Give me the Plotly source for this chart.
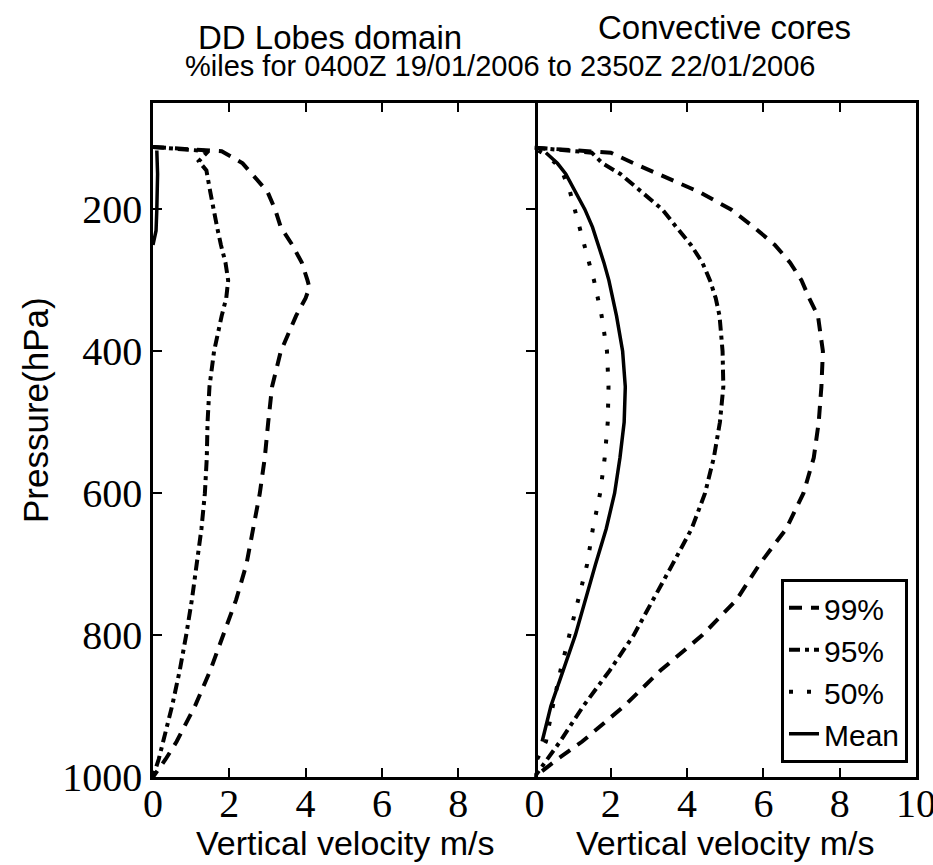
import plotly.graph_objects as go

# ---- DD Lobes domain (left panel) ----
dd_p99 = [112, 118, 135, 150, 175, 200, 225, 250, 275, 300, 310, 325, 350, 400, 450,
          500, 550, 600, 650, 700, 750, 800, 850, 900, 950, 975, 1000]
dd_v99 = [0.0, 1.8, 2.35, 2.6, 3.0, 3.2, 3.35, 3.65, 3.9, 4.05, 4.1, 4.0, 3.75, 3.35, 3.12,
          3.02, 2.93, 2.8, 2.62, 2.45, 2.18, 1.85, 1.5, 1.1, 0.62, 0.33, 0.0]

dd_p95 = [112, 118, 132, 145, 175, 200, 225, 250, 275, 300, 325, 350, 400, 450, 500,
          550, 600, 650, 700, 750, 800, 850, 900, 950, 975, 1000]
dd_v95 = [0.0, 1.45, 1.2, 1.4, 1.5, 1.58, 1.68, 1.78, 1.9, 1.97, 1.92, 1.8, 1.6, 1.48, 1.43,
          1.41, 1.36, 1.27, 1.15, 1.02, 0.87, 0.7, 0.5, 0.28, 0.15, 0.0]

dd_pmean = [117, 150, 200, 230, 250]
dd_vmean = [0.1, 0.12, 0.1, 0.08, 0.0]

# ---- Convective cores (right panel) ----
cc_p99 = [113, 120, 135, 150, 175, 200, 225, 250, 275, 300, 325, 350, 400, 450, 500,
          550, 600, 650, 700, 750, 800, 850, 900, 950, 975, 1000]
cc_v99 = [0.0, 2.0, 2.6, 3.25, 4.3, 5.15, 5.75, 6.3, 6.7, 7.0, 7.2, 7.43, 7.56, 7.52, 7.45,
          7.32, 7.05, 6.6, 5.9, 5.3, 4.4, 3.3, 2.35, 1.25, 0.6, 0.0]

cc_p95 = [113, 120, 135, 150, 175, 200, 225, 250, 275, 300, 325, 350, 400, 450, 500,
          550, 600, 650, 700, 750, 800, 850, 900, 950, 975, 1000]
cc_v95 = [0.0, 1.5, 1.78, 2.25, 2.8, 3.35, 3.72, 4.1, 4.4, 4.6, 4.75, 4.85, 4.93, 4.95, 4.86,
          4.7, 4.47, 4.12, 3.62, 3.1, 2.6, 1.97, 1.28, 0.67, 0.35, 0.0]

cc_p50 = [117, 125, 135, 150, 175, 200, 225, 250, 275, 300, 325, 350, 400, 450, 500,
          550, 600, 650, 700, 750, 800, 850, 900, 950, 975, 1000]
cc_v50 = [0.1, 0.35, 0.55, 0.75, 0.93, 1.05, 1.17, 1.29, 1.43, 1.56, 1.66, 1.76, 1.9, 1.94, 1.92,
          1.84, 1.72, 1.53, 1.38, 1.15, 0.92, 0.68, 0.48, 0.3, 0.07, 0.0]

cc_pmean = [120, 135, 150, 175, 200, 225, 250, 275, 300, 325, 350, 400, 450, 500,
            550, 600, 650, 700, 750, 800, 850, 900, 950]
cc_vmean = [0.3, 0.6, 0.82, 1.08, 1.32, 1.52, 1.68, 1.82, 1.95, 2.06, 2.15, 2.31, 2.38, 2.35,
            2.24, 2.1, 1.88, 1.6, 1.33, 1.07, 0.75, 0.43, 0.2]

x_ticks_left = [0, 2, 4, 6, 8]
x_ticks_right = [0, 2, 4, 6, 8, 10]
p_ticks = [200, 400, 600, 800, 1000]

DASH = "13px,9px"
DASHDOT = "11px,5px,4px,5px"
DOT = "4px,14px"
LW = 4

fig = go.Figure()

# left panel
fig.add_trace(go.Scatter(x=dd_v99, y=dd_p99, mode="lines", xaxis="x", yaxis="y",
                         line=dict(color="black", width=LW, dash=DASH), showlegend=False))
fig.add_trace(go.Scatter(x=dd_v95, y=dd_p95, mode="lines", xaxis="x", yaxis="y",
                         line=dict(color="black", width=LW, dash=DASHDOT), showlegend=False))
fig.add_trace(go.Scatter(x=dd_vmean, y=dd_pmean, mode="lines", xaxis="x", yaxis="y",
                         line=dict(color="black", width=3.5), showlegend=False))

# right panel
fig.add_trace(go.Scatter(x=cc_v99, y=cc_p99, mode="lines", name="99%", xaxis="x2", yaxis="y2",
                         line=dict(color="black", width=LW, dash=DASH)))
fig.add_trace(go.Scatter(x=cc_v95, y=cc_p95, mode="lines", name="95%", xaxis="x2", yaxis="y2",
                         line=dict(color="black", width=LW, dash=DASHDOT)))
fig.add_trace(go.Scatter(x=cc_v50, y=cc_p50, mode="lines", name="50%", xaxis="x2", yaxis="y2",
                         line=dict(color="black", width=LW, dash=DOT)))
fig.add_trace(go.Scatter(x=cc_vmean, y=cc_pmean, mode="lines", name="Mean", xaxis="x2", yaxis="y2",
                         line=dict(color="black", width=3.5)))

tick_font = dict(family="Liberation Serif", size=40, color="black")
axis_common = dict(showline=True, linecolor="black", linewidth=2.5, ticks="inside",
                   ticklen=9, tickwidth=1.5, tickcolor="black", showgrid=False,
                   zeroline=False, tickfont=tick_font, automargin=False)

fig.update_layout(
    width=933, height=865,
    margin=dict(l=153, r=17, t=103, b=88, autoexpand=False),
    paper_bgcolor="white", plot_bgcolor="white",
    xaxis=dict(domain=[0, 0.5], range=[0, 10], tickvals=x_ticks_left, mirror="ticks",
               anchor="y", ticklabelstandoff=-11, ticklabeloverflow="allow", **axis_common),
    xaxis2=dict(domain=[0.5, 1], range=[0, 10], tickvals=x_ticks_right, mirror="ticks",
                anchor="y2", ticklabelstandoff=-11, ticklabeloverflow="allow", **axis_common),
    yaxis=dict(range=[1000, 50], tickvals=p_ticks, mirror="ticks", anchor="x",
               ticklabeloverflow="allow", **axis_common),
    yaxis2=dict(range=[1000, 50], matches="y", anchor="x2", side="right", showline=True,
                linecolor="black", linewidth=2.5, mirror=False, ticks="",
                showticklabels=False, showgrid=False, zeroline=False, automargin=False),
    legend=dict(x=0.9895, y=0.021, xanchor="right", yanchor="bottom",
                bgcolor="white", bordercolor="black", borderwidth=3,
                font=dict(family="Liberation Sans", size=30, color="black"),
                itemwidth=30, tracegroupgap=0),
    showlegend=True,
)

W, H = 763.0, 674.0


def px(xp):
    return (xp - 153) / W


def py(yp):
    return (777 - yp) / H


sans = "Liberation Sans"
annos = [
    dict(text="DD Lobes domain", x=px(330), y=py(37), size=33),
    dict(text="Convective cores", x=px(724), y=py(27), size=33),
    dict(text="%iles for 0400Z 19/01/2006 to 2350Z 22/01/2006", x=px(500), y=py(66), size=29),
    dict(text="Vertical velocity m/s", x=px(345), y=py(843), size=34),
    dict(text="Vertical velocity m/s", x=px(725), y=py(843), size=34),
]
for a in annos:
    fig.add_annotation(text=a["text"], x=a["x"], y=a["y"], xref="paper", yref="paper",
                       xanchor="center", yanchor="middle", showarrow=False,
                       font=dict(family=sans, size=a["size"], color="black"))
fig.add_annotation(text="Pressure(hPa)", x=px(35), y=py(410), xref="paper", yref="paper",
                   xanchor="center", yanchor="middle", showarrow=False, textangle=-90,
                   font=dict(family=sans, size=35, color="black"))

fig.write_html("out.html")
